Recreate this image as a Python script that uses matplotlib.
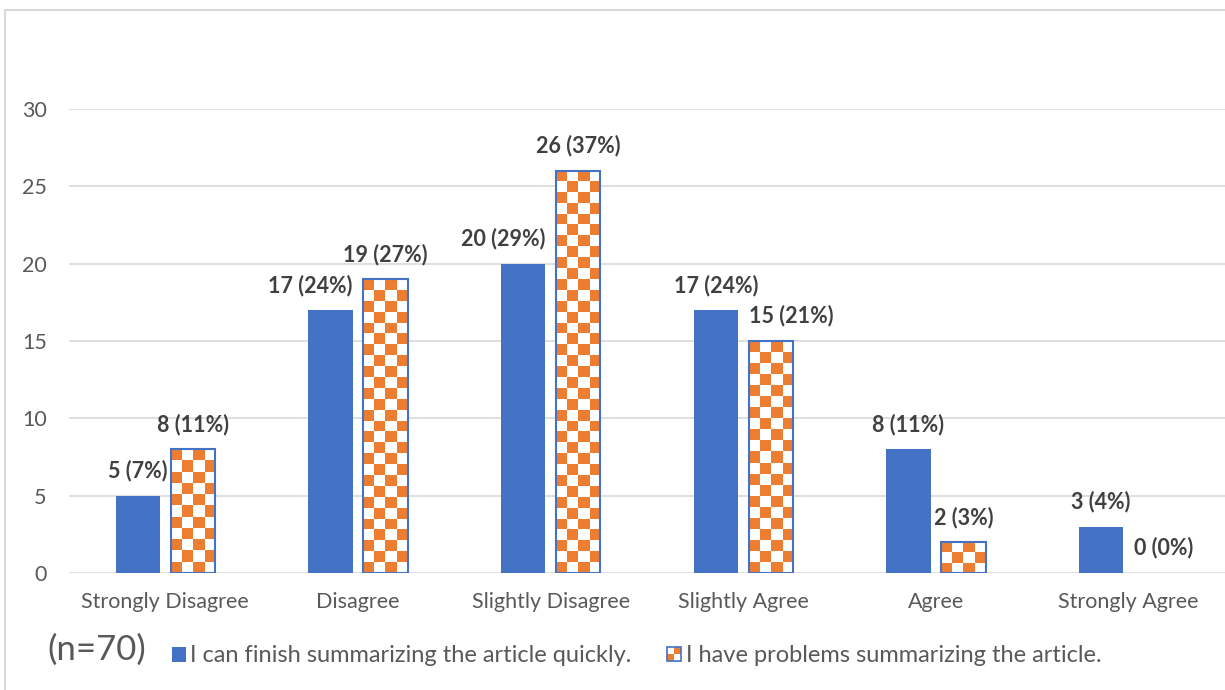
import matplotlib.pyplot as plt
import numpy as np
from matplotlib.colors import ListedColormap
from matplotlib.patches import Rectangle, Patch
from matplotlib.legend_handler import HandlerPatch

categories = ['Strongly Disagree', 'Disagree', 'Slightly Disagree',
              'Slightly Agree', 'Agree', 'Strongly Agree']
quick = [5, 17, 20, 17, 8, 3]
quick_pct = [7, 24, 29, 24, 11, 4]
problems = [8, 19, 26, 15, 2, 0]
problems_pct = [11, 27, 37, 21, 3, 0]
series_names = ['I can finish summarizing the article quickly.',
                'I have problems summarizing the article.']
n_total = 70

BLUE = '#4472C4'
ORANGE = '#ED7D31'
GRID = '#D9D9D9'
TICK = '#595959'
LABEL = '#404040'

plt.rcParams['font.family'] = ['Lato', 'DejaVu Sans']

fig = plt.figure(figsize=(12.25, 6.9), dpi=100)
ax = fig.add_axes([69 / 1225, 1 - 573 / 690, 1 - 69 / 1225, (573 - 109) / 690])

x = np.arange(len(categories))
w = 0.23
off = 0.143
checker = ListedColormap(['white', ORANGE])
sq_y = 0.71  # height of one checker square in data units

ax.bar(x - off, quick, width=w, color=BLUE, zorder=3)

for xi, v in zip(x, problems):
    left = xi + off - w / 2
    if v > 0:
        rows = max(1, int(round(v / sq_y)))
        cells = (np.add.outer(np.arange(rows), np.arange(4)) % 2 == 0).astype(int)
        ax.imshow(cells, cmap=checker, extent=(left, left + w, 0, v),
                  origin='lower', aspect='auto', interpolation='nearest',
                  vmin=0, vmax=1, zorder=3)
edges = [BLUE if v > 0 else 'none' for v in problems]
ax.bar(x + off, problems, width=w, facecolor='none', edgecolor=edges,
       linewidth=1.5, zorder=4)

# labels nudged sideways where neighbouring labels would collide
quick_ha = ['center', 'right', 'right', 'center', 'center', 'center']
prob_ha = ['center', 'center', 'center', 'left', 'center', 'left']
anchor = {'center': 0.0, 'right': w / 2, 'left': -w / 2}


def put_labels(xs, vals, pcts, aligns):
    for xi, v, p, ha in zip(xs, vals, pcts, aligns):
        ax.annotate(f'{v} ({p}%)', (xi + anchor[ha], v), xytext=(0, 18),
                    textcoords='offset points', ha=ha, va='center',
                    fontsize=15.5, fontweight='bold', color=LABEL)


put_labels(x - off, quick, quick_pct, quick_ha)
put_labels(x + off, problems, problems_pct, prob_ha)

ax.set_xlim(-0.5, len(categories) - 0.5)
ax.set_ylim(0, 30)
ax.set_yticks(range(0, 31, 5))
ax.set_xticks(x)
ax.set_xticklabels(categories)
ax.tick_params(axis='both', length=0, labelsize=15.5, colors=TICK)
ax.tick_params(axis='y', pad=16)
ax.tick_params(axis='x', pad=14)
ax.grid(axis='y', color=GRID, linewidth=1.2, zorder=0)
ax.set_axisbelow(True)
for s in ax.spines.values():
    s.set_visible(False)


class CheckerHandler(HandlerPatch):
    def create_artists(self, legend, orig_handle, xdescent, ydescent,
                       width, height, fontsize, trans):
        s = min(width, height)
        x0, y0 = -xdescent, -ydescent + (height - s) / 2
        half = s / 2
        arts = [Rectangle((x0, y0), s, s, facecolor='white', edgecolor='none'),
                Rectangle((x0, y0), half, half, facecolor=ORANGE, edgecolor='none'),
                Rectangle((x0 + half, y0 + half), half, half, facecolor=ORANGE,
                          edgecolor='none'),
                Rectangle((x0, y0), s, s, facecolor='none', edgecolor=BLUE, lw=1.2)]
        for a in arts:
            a.set_transform(trans)
        return arts


h_quick = Patch(facecolor=BLUE)
h_prob = Patch(facecolor=ORANGE)
leg = fig.legend([h_quick, h_prob], series_names, loc='center left',
                 bbox_to_anchor=(155 / 1225, 1 - 656 / 690), ncol=2,
                 frameon=False, fontsize=17, handlelength=0.6,
                 handleheight=0.6, handletextpad=0.2, columnspacing=1.5,
                 borderpad=0.2, handler_map={h_prob: CheckerHandler()})
for t in leg.get_texts():
    t.set_color(TICK)

fig.text(47 / 1225, 1 - 650 / 690, f'(n={n_total})', fontsize=25,
         color=TICK, va='center', ha='left')

fig.add_artist(Rectangle((5 / 1225, -0.1), 1.2, 1.1 - 10 / 690,
                         transform=fig.transFigure, fill=False,
                         edgecolor=GRID, linewidth=1.5))

fig.savefig('out.png', dpi=100)
